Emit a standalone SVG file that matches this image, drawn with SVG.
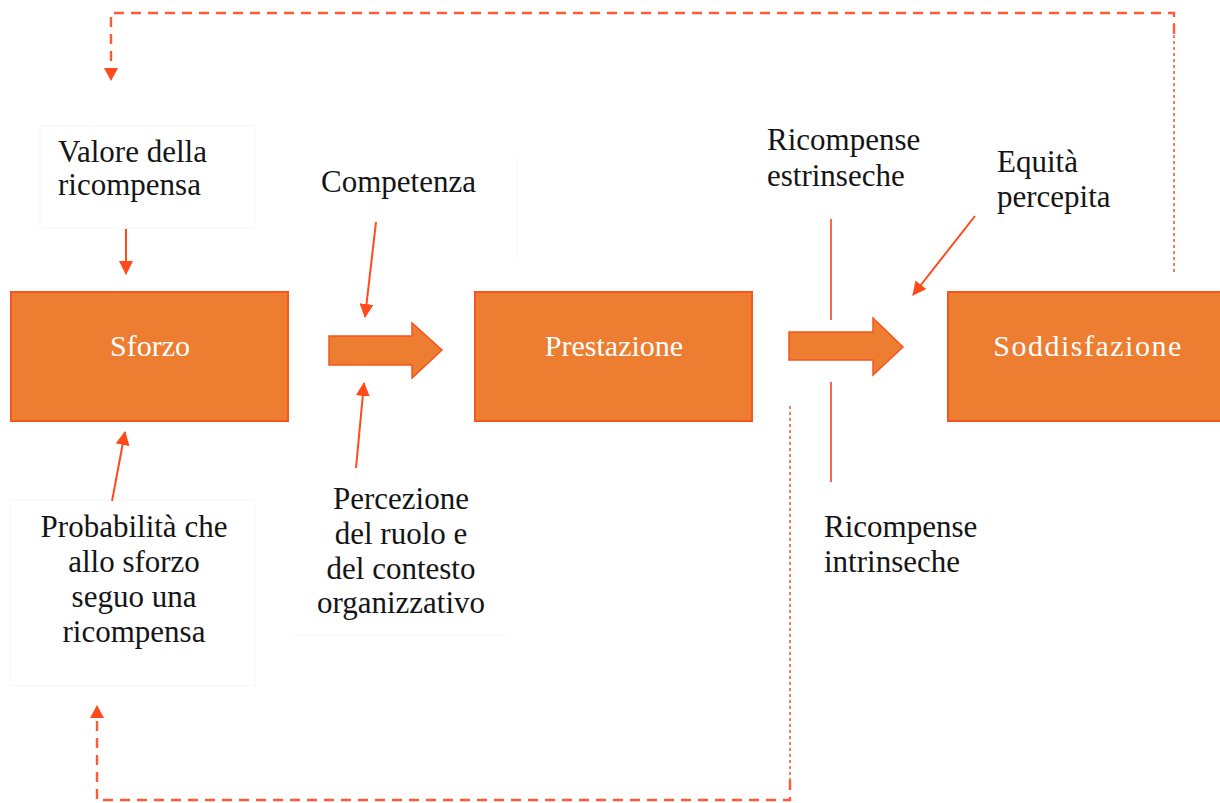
<svg xmlns="http://www.w3.org/2000/svg" width="1220" height="803" viewBox="0 0 1220 803">
<defs>
<style>
.box{fill:#ED7D31;stroke:#F5551F;stroke-width:2}
.boxlabel{font-family:"Liberation Serif",serif;font-size:30px;fill:#ffffff;text-anchor:middle}
.lbl{font-family:"Liberation Serif",serif;font-size:31px;fill:#151515}
.ctr{text-anchor:middle}
.faint{fill:none;stroke:#f6f6f6;stroke-width:1}
.conn{stroke:#FF4A1C;stroke-width:2;fill:none}
.rline{stroke:#F86A4A;stroke-width:2;fill:none}
.dashh{stroke:#FF5A36;stroke-width:2.4;fill:none;stroke-dasharray:10 7}
.dashv{stroke:#FF5A36;stroke-width:1.6;fill:none;stroke-dasharray:3 3}
.barrow{fill:#ED7D31;stroke:#F5551F;stroke-width:1.5}
</style>
<marker id="ah" markerWidth="14" markerHeight="14" viewBox="0 0 14 14" refX="13" refY="7" orient="auto" markerUnits="userSpaceOnUse">
<path d="M0,0 L14,7 L0,14 Z" fill="#FF4A1C"/>
</marker>
</defs>
<rect width="1220" height="803" fill="#ffffff"/>

<g id="faint-boxes">
<rect class="faint" x="40" y="126" width="215" height="102"/>
<line class="faint" x1="517" y1="157" x2="517" y2="260"/>
<rect class="faint" x="10" y="500" width="245" height="186"/>
<line class="faint" x1="293" y1="635" x2="508" y2="635"/>
</g>

<g id="node-sforzo">
<rect class="box" x="11" y="292" width="277" height="129"/>
<text class="boxlabel" x="150" y="356">Sforzo</text>
</g>
<g id="node-prestazione">
<rect class="box" x="475" y="292" width="277" height="129"/>
<text class="boxlabel" x="614" y="356">Prestazione</text>
</g>
<g id="node-soddisfazione">
<rect class="box" x="948" y="292" width="280" height="129"/>
<text class="boxlabel" x="1088" y="356" letter-spacing="1.5">Soddisfazione</text>
</g>

<g id="node-valore">
<text class="lbl" x="58" y="162">Valore della</text>
<text class="lbl" x="58" y="195">ricompensa</text>
</g>
<g id="node-competenza">
<text class="lbl" x="321" y="192">Competenza</text>
</g>
<g id="node-probabilita">
<text class="lbl ctr" x="134" y="537">Probabilità che</text>
<text class="lbl ctr" x="134" y="572">allo sforzo</text>
<text class="lbl ctr" x="134" y="607">seguo una</text>
<text class="lbl ctr" x="134" y="642">ricompensa</text>
</g>
<g id="node-percezione">
<text class="lbl ctr" x="401" y="509">Percezione</text>
<text class="lbl ctr" x="401" y="544">del ruolo e</text>
<text class="lbl ctr" x="401" y="579">del contesto</text>
<text class="lbl ctr" x="401" y="613">organizzativo</text>
</g>
<g id="node-estrinseche">
<text class="lbl" x="767" y="150">Ricompense</text>
<text class="lbl" x="767" y="186">estrinseche</text>
</g>
<g id="node-equita">
<text class="lbl" x="997" y="172">Equità</text>
<text class="lbl" x="997" y="207">percepita</text>
</g>
<g id="node-intrinseche">
<text class="lbl" x="824" y="537">Ricompense</text>
<text class="lbl" x="824" y="572">intrinseche</text>
</g>

<g id="connectors">
<path class="barrow" d="M329,336 L412,336 L412,323 L442,350 L412,378 L412,365 L329,365 Z"/>
<path class="barrow" d="M789,332 L873,332 L873,318 L903,347 L873,375 L873,360 L789,360 Z"/>
<line class="conn" x1="126" y1="229" x2="126" y2="274" marker-end="url(#ah)"/>
<line class="conn" x1="376" y1="222" x2="365" y2="317" marker-end="url(#ah)"/>
<line class="conn" x1="356" y1="468" x2="364" y2="383" marker-end="url(#ah)"/>
<line class="conn" x1="112" y1="501" x2="125" y2="432" marker-end="url(#ah)"/>
<line class="conn" x1="975" y1="216" x2="913" y2="295" marker-end="url(#ah)"/>
<line class="rline" x1="831" y1="219" x2="831" y2="320"/>
<line class="rline" x1="831" y1="382" x2="831" y2="482"/>
<path class="dashv" d="M1174,272 L1174,22"/>
<path class="dashh" d="M1174,34 L1174,13 L111,13 L111,68"/>
<path d="M104,68 L118,68 L111,81 Z" fill="#FF4A1C"/>
<path class="dashv" d="M790,406 L790,780"/>
<path class="dashh" d="M790,780 L790,800 L97,800 L97,718"/>
<path d="M90,718 L104,718 L97,705 Z" fill="#FF4A1C"/>
</g>
</svg>
